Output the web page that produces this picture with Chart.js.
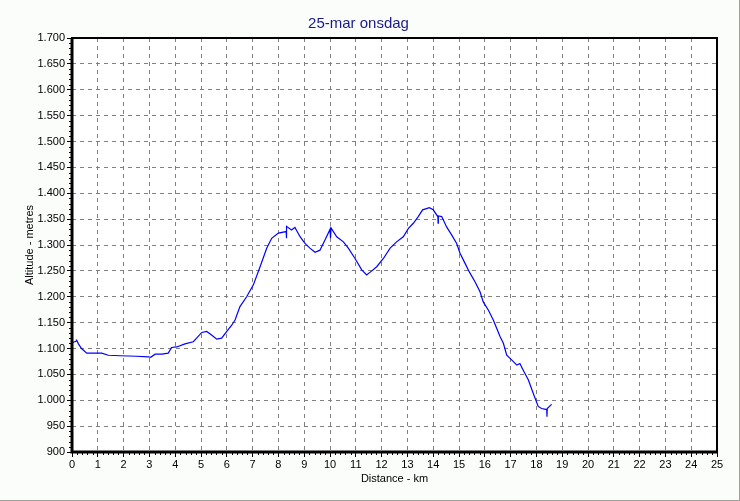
<!DOCTYPE html>
<html>
<head>
<meta charset="utf-8">
<script src="https://cdn.jsdelivr.net/npm/chart.js@4/dist/chart.umd.min.js"></script>
<style>
  html, body { margin: 0; padding: 0; background: #fbfdfb; }
  #wrap {
    width: 740px; height: 501px; box-sizing: border-box;
    border-right: 1px solid #a0a098; border-bottom: 1px solid #a0a098;
  }
  canvas { display: block; }
</style>
</head>
<body>
<div id="wrap"><canvas id="chart"></canvas></div>
<script>
// distance (km) and altitude (m)
const distanceKm = [
  0, 0.15, 0.18, 0.25, 0.37, 0.57, 1.15, 1.41, 1.86, 2.5,
  2.96, 3.05, 3.22, 3.48, 3.73, 3.86, 4.06, 4.38, 4.7, 4.83,
  5.03, 5.22, 5.41, 5.61, 5.8, 6.0, 6.19, 6.32, 6.51, 6.77,
  7.03, 7.29, 7.55, 7.74, 8.0, 8.3, 8.31, 8.32, 8.51, 8.64,
  8.84, 9.03, 9.22, 9.42, 9.61, 9.81, 10.0, 10.02, 10.04, 10.26,
  10.52, 10.71, 10.97, 11.23, 11.42, 11.62, 11.81, 12.07, 12.33, 12.58,
  12.84, 13.04, 13.23, 13.42, 13.59, 13.85, 14.0, 14.18, 14.19, 14.2,
  14.33, 14.52, 14.72, 14.91, 15.04, 15.23, 15.4, 15.62, 15.81, 15.94,
  16.14, 16.33, 16.46, 16.59, 16.72, 16.85, 17.04, 17.24, 17.36, 17.49,
  17.69, 17.88, 18.07, 18.2, 18.4, 18.41, 18.42, 18.59
];
const altitudeM = [
  1111, 1114, 1116, 1109, 1100, 1091, 1091, 1087, 1086, 1085,
  1084, 1083, 1089, 1089, 1091, 1102, 1103, 1109, 1113, 1120,
  1131, 1133, 1126, 1118, 1120, 1133, 1145, 1155, 1181, 1200,
  1223, 1258, 1294, 1313, 1323, 1326, 1313, 1336, 1329, 1334,
  1316, 1303, 1294, 1286, 1290, 1310, 1330, 1313, 1333, 1316,
  1306, 1294, 1274, 1252, 1242, 1250, 1258, 1274, 1294, 1306,
  1316, 1332, 1342, 1355, 1368, 1372, 1368, 1355, 1342, 1356,
  1355, 1335, 1319, 1303, 1284, 1265, 1248, 1229, 1210, 1190,
  1174, 1155, 1139, 1123, 1110, 1087, 1078, 1068, 1071, 1058,
  1039, 1013, 988, 984, 982, 968, 984, 992
];

const titleText = "25-mar onsdag";
const xTitle = "Distance - km";
const yTitle = "Altitude - metres";
const xMin = 0, xMax = 25, xStep = 1, xMinorStep = 0.2;
const yMin = 900, yMax = 1700, yStep = 50, yMinorStep = 10;

const points = distanceKm.map((d, i) => ({ x: d, y: altitudeM[i] }));
const fontFamily = 'Arial, "Liberation Sans", sans-serif';

function formatAlt(v) {
  if (v < 1000) return String(v);
  return Math.floor(v / 1000) + "." + String(v % 1000).padStart(3, "0");
}

const framePlugin = {
  id: "frame",
  beforeDraw(chart) {
    const { ctx, chartArea: a } = chart;
    ctx.save();
    ctx.fillStyle = "#ffffff";
    ctx.fillRect(a.left, a.top, a.right - a.left, a.bottom - a.top);
    ctx.restore();
  },
  afterDraw(chart) {
    const { ctx, chartArea: a, scales } = chart;
    ctx.save();
    ctx.strokeStyle = "#000000";
    // minor ticks
    ctx.lineWidth = 1;
    ctx.beginPath();
    for (let v = yMin; v <= yMax; v += yMinorStep) {
      if (v % yStep === 0) continue;
      const y = Math.round(scales.y.getPixelForValue(v)) + 0.5;
      ctx.moveTo(a.left - 3, y);
      ctx.lineTo(a.left, y);
    }
    for (let i = 0; i <= (xMax - xMin) / xMinorStep; i++) {
      if (i % 5 === 0) continue;
      const x = Math.round(scales.x.getPixelForValue(xMin + i * xMinorStep)) + 0.5;
      ctx.moveTo(x, a.bottom);
      ctx.lineTo(x, a.bottom + 3);
    }
    ctx.stroke();
    // frame
    ctx.lineWidth = 2;
    ctx.strokeRect(a.left, a.top, a.right - a.left, a.bottom - a.top);
    ctx.lineWidth = 3;
    ctx.beginPath();
    ctx.moveTo(a.left, a.top);
    ctx.lineTo(a.left, a.bottom);
    ctx.lineTo(a.right, a.bottom);
    ctx.stroke();
    ctx.restore();
  }
};

new Chart(document.getElementById("chart"), {
  type: "line",
  data: {
    datasets: [{
      data: points,
      borderColor: "#0000ff",
      borderWidth: 1.2,
      pointRadius: 0,
      tension: 0,
      fill: false
    }]
  },
  options: {
    responsive: true,
    maintainAspectRatio: false,
    animation: false,
    parsing: false,
    layout: { padding: { left: 0, right: 22, top: 0, bottom: 0 } },
    plugins: {
      legend: { display: false },
      tooltip: { enabled: false },
      title: {
        display: true,
        text: titleText,
        color: "#1a1a8c",
        font: { family: fontFamily, size: 15, weight: "normal" },
        padding: { top: 15, bottom: 5 }
      }
    },
    scales: {
      x: {
        type: "linear",
        min: xMin,
        max: xMax,
        afterFit(s) { s.height = 48; },
        ticks: {
          stepSize: xStep,
          color: "#000000",
          padding: 1,
          maxRotation: 0,
          font: { family: fontFamily, size: 11 }
        },
        grid: {
          color: "#808080",
          tickColor: "#000000",
          tickLength: 5,
          tickBorderDash: []
        },
        border: { display: false, dash: [4, 4] },
        title: {
          display: true,
          text: xTitle,
          color: "#000000",
          font: { family: fontFamily, size: 11 },
          padding: { top: 0, bottom: 14 }
        }
      },
      y: {
        type: "linear",
        min: yMin,
        max: yMax,
        afterFit(s) { s.width = 72; },
        ticks: {
          stepSize: yStep,
          color: "#000000",
          padding: 2,
          callback: v => formatAlt(v),
          font: { family: fontFamily, size: 11 }
        },
        grid: {
          color: "#808080",
          tickColor: "#000000",
          tickLength: 5,
          tickBorderDash: []
        },
        border: { display: false, dash: [4, 4] },
        title: {
          display: true,
          text: yTitle,
          color: "#000000",
          font: { family: fontFamily, size: 11 },
          padding: { top: 23, bottom: 0 }
        }
      }
    }
  },
  plugins: [framePlugin]
});
</script>
</body>
</html>
